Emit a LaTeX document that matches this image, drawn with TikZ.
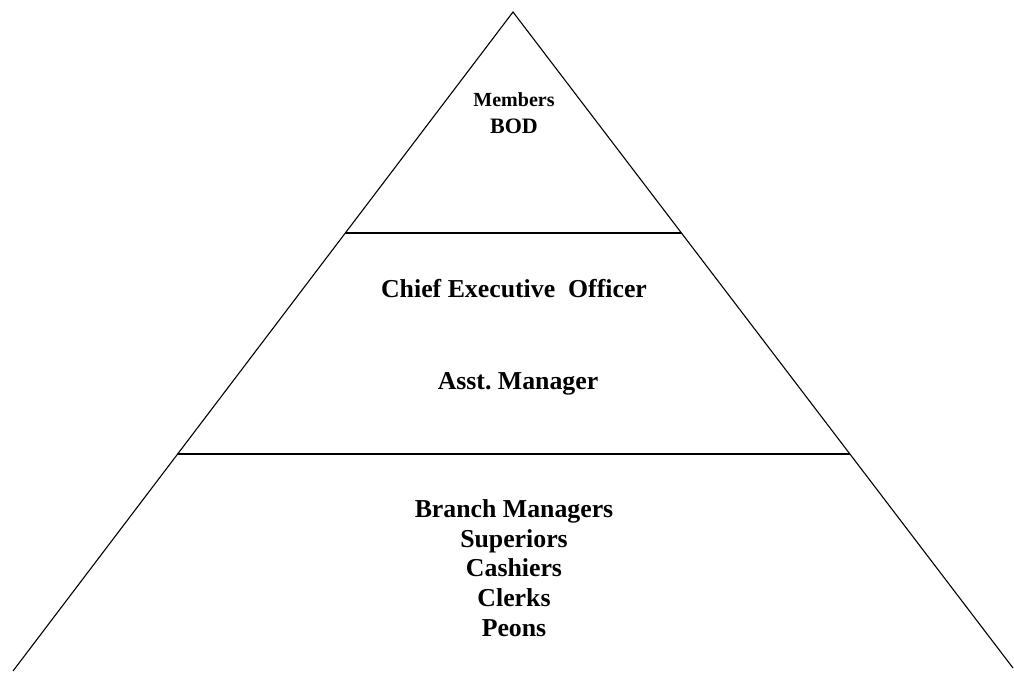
\documentclass[tikz,border=0pt]{standalone}
\usepackage{fontspec}
\setmainfont{Liberation Serif}
\usetikzlibrary{calc}
\begin{document}
\begin{tikzpicture}[x=1pt,y=-1pt,
  side/.style={line width=1.1pt,black},
  tier/.style={line width=1.6pt,black},
  label/.style={anchor=base,inner sep=0pt,font=\bfseries\fontsize{25.8}{30}\selectfont},
  smalllabel/.style={anchor=base,inner sep=0pt,font=\bfseries\fontsize{20}{24}\selectfont}]
  \useasboundingbox (0,0) rectangle (1014,672);
  % pyramid outline
  \coordinate (apex) at (513,12);
  \coordinate (bl) at (13,671);
  \coordinate (br) at (1013,668);
  \draw[side] (bl) -- (apex) -- (br);
  % tier dividers
  \coordinate (t1l) at ($(apex)!0.3354!(bl)$);
  \coordinate (t1r) at ($(apex)!0.3369!(br)$);
  \coordinate (t2l) at ($(apex)!0.6707!(bl)$);
  \coordinate (t2r) at ($(apex)!0.6738!(br)$);
  \draw[tier] (t1l) -- (t1r);
  \draw[tier] (t2l) -- (t2r);
  % top tier
  \node[smalllabel] (members) at (514,106) {Members};
  \node[label,font=\bfseries\fontsize{22}{26}\selectfont] (bod) at (514,133) {BOD};
  % middle tier
  \node[label] (ceo) at (514,297) {Chief Executive\ \ Officer};
  \node[label] (asst) at (518,389) {Asst.~Manager};
  % bottom tier
  \node[label] (branch) at (514,517) {Branch Managers};
  \node[label] (sup) at (514,547) {Superiors};
  \node[label] (cash) at (514,576) {Cashiers};
  \node[label] (clerks) at (514,606) {Clerks};
  \node[label] (peons) at (514,636) {Peons};
\end{tikzpicture}
\end{document}
